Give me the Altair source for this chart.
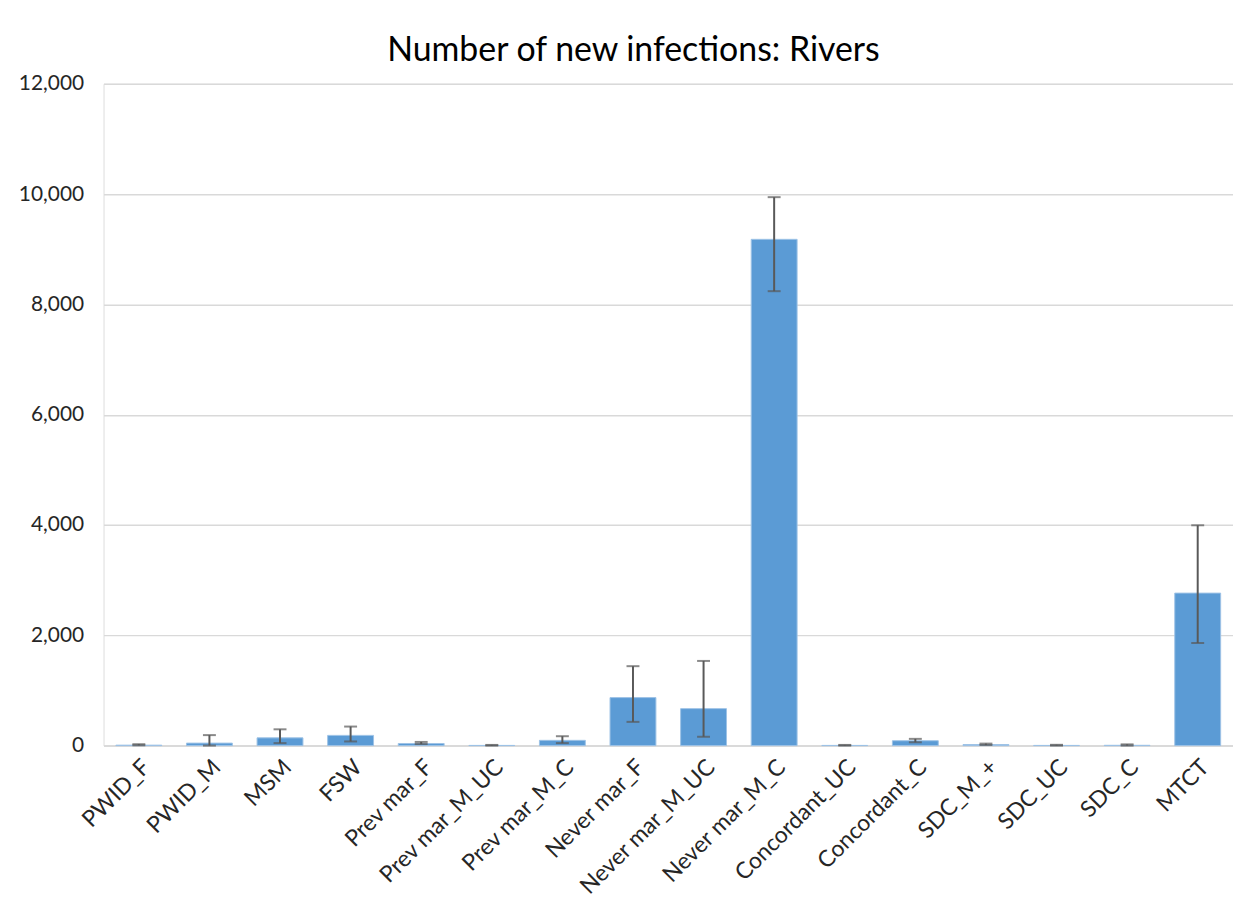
import altair as alt
import pandas as pd

categories = ["PWID_F", "PWID_M", "MSM", "FSW", "Prev mar_F", "Prev mar_M_UC",
              "Prev mar_M_C", "Never mar_F", "Never mar_M_UC", "Never mar_M_C",
              "Concordant_UC", "Concordant_C", "SDC_M_+", "SDC_UC", "SDC_C", "MTCT"]
values = [8, 45, 140, 185, 38, 3, 95, 870, 670, 9180, 3, 88, 18, 3, 5, 2765]
lows = [5, 0, 45, 75, 28, 0, 45, 430, 160, 8240, 0, 60, 10, 0, 0, 1860]
highs = [25, 190, 295, 345, 66, 12, 170, 1440, 1535, 9945, 12, 122, 36, 14, 22, 3995]
y_ticks = [0, 2000, 4000, 6000, 8000, 10000, 12000]

df = pd.DataFrame({"cat": categories, "value": values, "low": lows, "high": highs})

FONT = "Lato"
x_axis = alt.Axis(labelAngle=-45, ticks=False, domain=True, labelPadding=10,
                  labelFontSize=23, labelLimit=400)
y_axis = alt.Axis(values=y_ticks, format=",.0f", ticks=False, domain=False,
                  labelPadding=20, minExtent=80, maxExtent=80)
x_scale = alt.Scale(paddingInner=0.35, paddingOuter=0.175)
y_scale = alt.Scale(domain=[0, 12000])


def xe():
    return alt.X("cat:N", sort=categories, title=None, scale=x_scale, axis=x_axis)


def ye(field):
    return alt.Y(field, type="quantitative", scale=y_scale, title=None, axis=y_axis)


bars = alt.Chart(df).mark_bar(color="#5B9BD5", stroke="#9DC3E6", strokeWidth=1).encode(
    x=xe(), y=ye("value"))

rules = alt.Chart(df).mark_rule(color="#595959", strokeWidth=2).encode(
    x=xe(), y=ye("low"), y2="high")

caps_hi = alt.Chart(df).mark_tick(color="#595959", thickness=2, size=13,
                                  orient="horizontal").encode(x=xe(), y=ye("high"))
caps_lo = alt.Chart(df).mark_tick(color="#595959", thickness=2, size=13,
                                  orient="horizontal").encode(x=xe(), y=ye("low"))

chart = alt.layer(bars, rules, caps_hi, caps_lo).properties(
    width=1135, height=665,
    title=alt.TitleParams("Number of new infections: Rivers", fontSize=34, font=FONT,
                          fontWeight="normal", color="#000000", anchor="middle",
                          offset=5, dx=-35),
    padding={"left": 10, "top": 24, "right": 0, "bottom": 5},
).configure_view(stroke=None).configure(background="white").configure_axis(
    labelFont=FONT, labelFontSize=21, labelColor="#262626",
    gridColor="#D9D9D9", gridWidth=1.5, domainColor="#D9D9D9", domainWidth=1.5,
)

chart.save("out.html", embed_options={"renderer": "svg", "actions": False})
